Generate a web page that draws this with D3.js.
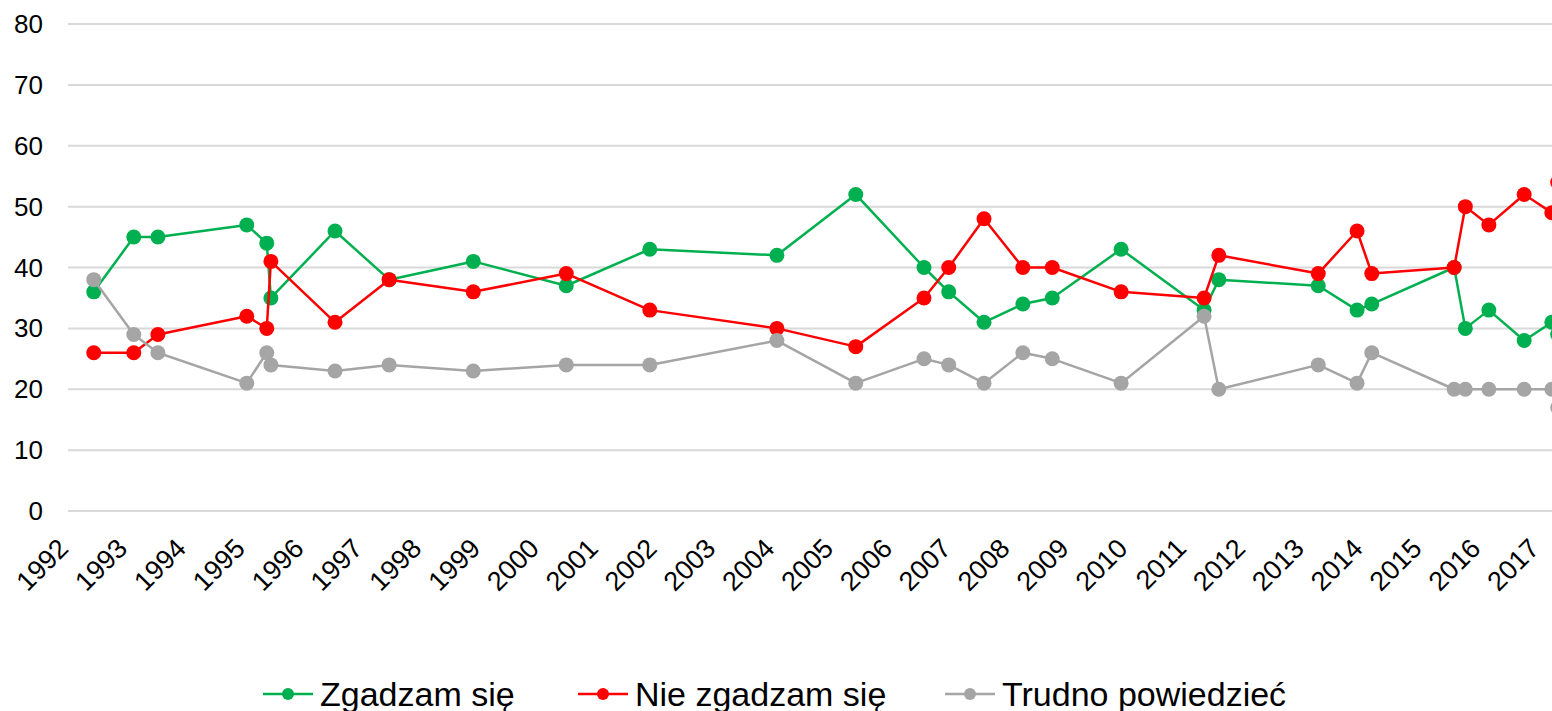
<!DOCTYPE html>
<html>
<head>
<meta charset="utf-8">
<script src="https://cdn.jsdelivr.net/npm/d3@7"></script>
<style>
  html, body { margin: 0; padding: 0; background: #fff; overflow: hidden; }
  svg { display: block; }
</style>
</head>
<body>
<div id="chart"></div>
<script>
// survey positions on the year axis
const surveys = [1992.37, 1993.05, 1993.46, 1994.97, 1995.31, 1995.38, 1996.47, 1997.39, 1998.82, 2000.40,
                 2001.82, 2003.98, 2005.32, 2006.48, 2006.90, 2007.50, 2008.16, 2008.66, 2009.83, 2011.24,
                 2011.49, 2013.18, 2013.84, 2014.09, 2015.49, 2015.68, 2016.08, 2016.68, 2017.15, 2017.25];

const zgadzam    = [36, 45, 45, 47, 44, 35, 46, 38, 41, 37, 43, 42, 52, 40, 36, 31, 34, 35, 43, 33, 38, 37, 33, 34, 40, 30, 33, 28, 31, 29];
const nieZgadzam = [26, 26, 29, 32, 30, 41, 31, 38, 36, 39, 33, 30, 27, 35, 40, 48, 40, 40, 36, 35, 42, 39, 46, 39, 40, 50, 47, 52, 49, 54];
const trudno     = [38, 29, 26, 21, 26, 24, 23, 24, 23, 24, 24, 28, 21, 25, 24, 21, 26, 25, 21, 32, 20, 24, 21, 26, 20, 20, 20, 20, 20, 17];

const years = d3.range(1992, 2018);
const yTicks = [0, 10, 20, 30, 40, 50, 60, 70, 80];

const seriesNames = ["Zgadzam się", "Nie zgadzam się", "Trudno powiedzieć"];
const seriesColors = ["#00B050", "#FF0000", "#A5A5A5"];
const seriesValues = [zgadzam, nieZgadzam, trudno];

let width = 1552,
    height = 711,
    font = "'Century Gothic', 'Liberation Sans', Arial, sans-serif";

let svg = d3.select("#chart").append("svg")
    .attr("width", width)
    .attr("height", height);

let x = d3.scaleLinear().domain([1992, 2017]).range([72, 1543]);
let y = d3.scaleLinear().domain([0, 80]).range([511, 24]);

// gridlines
svg.append("g").selectAll("line").data(yTicks).enter().append("line")
    .attr("x1", 68).attr("x2", width + 20)
    .attr("y1", d => y(d)).attr("y2", d => y(d))
    .style("stroke", "#D9D9D9")
    .style("stroke-width", 2);

// y labels
svg.append("g").selectAll("text").data(yTicks).enter().append("text")
    .attr("x", 43)
    .attr("y", d => y(d))
    .attr("dy", "0.35em")
    .attr("text-anchor", "end")
    .style("font-family", font)
    .style("font-size", "26px")
    .style("fill", "#000")
    .text(d => d);

// x labels, rotated
svg.append("g").selectAll("text").data(years).enter().append("text")
    .attr("text-anchor", "end")
    .attr("transform", d => "translate(" + (x(d) - 2) + ",550) rotate(-45)")
    .style("font-family", font)
    .style("font-size", "27px")
    .style("fill", "#000")
    .text(d => d);

// series
let line = d3.line()
    .x(d => x(d[0]))
    .y(d => y(d[1]));

seriesValues.forEach(function(vals, i) {
  let pts = surveys.map((s, j) => [s, vals[j]]);
  let g = svg.append("g");
  g.append("path")
      .datum(pts)
      .attr("d", line)
      .style("fill", "none")
      .style("stroke", seriesColors[i])
      .style("stroke-width", 2.5)
      .style("stroke-linejoin", "round");
  g.selectAll("circle").data(pts).enter().append("circle")
      .attr("cx", d => x(d[0]))
      .attr("cy", d => y(d[1]))
      .attr("r", 7.5)
      .style("fill", seriesColors[i]);
});

// legend
let legendX = [263, 578, 945];
let legend = svg.append("g").selectAll("g").data(seriesNames).enter().append("g")
    .attr("transform", (d, i) => "translate(" + legendX[i] + ",694)");
legend.append("line")
    .attr("x1", 0).attr("x2", 50)
    .style("stroke", (d, i) => seriesColors[i])
    .style("stroke-width", 2.5);
legend.append("circle")
    .attr("cx", 25).attr("r", 6)
    .style("fill", (d, i) => seriesColors[i]);
legend.append("text")
    .attr("x", 57)
    .attr("dy", "0.35em")
    .style("font-family", font)
    .style("font-size", "34px")
    .style("fill", "#000")
    .text(d => d);
</script>
</body>
</html>
